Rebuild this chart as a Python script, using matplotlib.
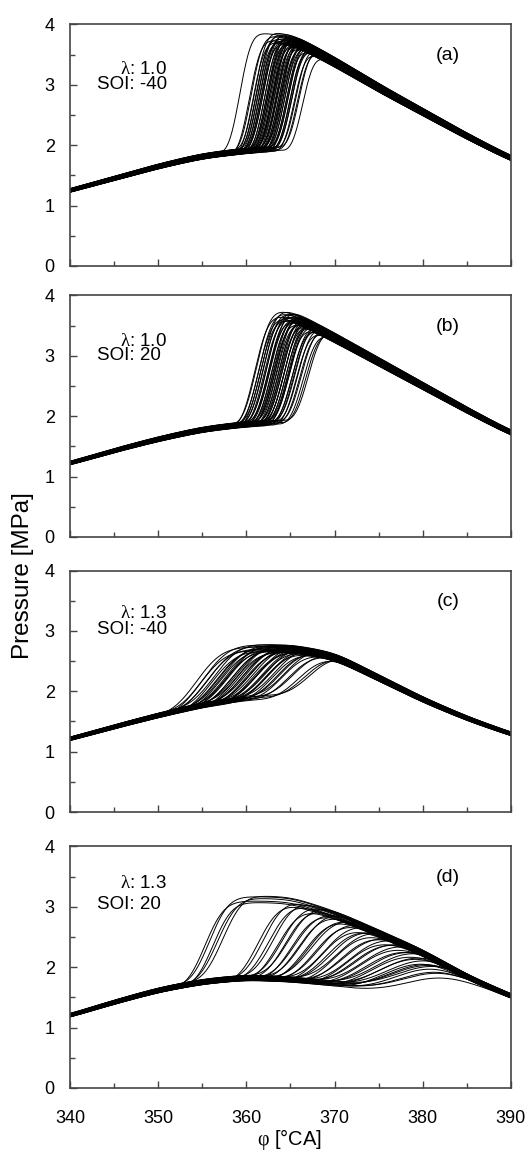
import numpy as np
import matplotlib
matplotlib.use('Agg')
import matplotlib.pyplot as plt
from matplotlib.ticker import MultipleLocator

plt.rcParams['font.family'] = ['Liberation Sans', 'DejaVu Sans']
plt.rcParams['mathtext.fontset'] = 'custom'
plt.rcParams['mathtext.rm'] = 'Liberation Serif'
plt.rcParams['mathtext.default'] = 'rm'

# crank angle knots of the base curves
phi_knots = [335, 340, 345, 350, 355, 360, 365, 370, 375, 380, 385, 390, 395]

# unburned (compression) line and fully burned (expansion) line, MPa
p_mot_a = [1.06, 1.25, 1.45, 1.65, 1.82, 1.91, 1.95, 1.93, 1.85, 1.72, 1.58, 1.42, 1.27]
p_brn_a = [2.90, 3.10, 3.35, 3.55, 3.72, 3.83, 3.77, 3.38, 2.95, 2.55, 2.15, 1.78, 1.50]
p_mot_b = [1.04, 1.22, 1.43, 1.62, 1.78, 1.87, 1.90, 1.88, 1.80, 1.68, 1.53, 1.38, 1.24]
p_brn_b = [2.85, 3.05, 3.25, 3.45, 3.63, 3.74, 3.68, 3.30, 2.90, 2.50, 2.10, 1.72, 1.45]
p_mot_c = [1.03, 1.21, 1.41, 1.60, 1.77, 1.88, 1.93, 1.90, 1.80, 1.65, 1.48, 1.30, 1.14]
p_brn_c = [2.10, 2.25, 2.40, 2.55, 2.66, 2.72, 2.71, 2.58, 2.22, 1.86, 1.55, 1.29, 1.08]
p_mot_d = [1.02, 1.20, 1.42, 1.62, 1.76, 1.83, 1.80, 1.73, 1.64, 1.53, 1.40, 1.26, 1.12]
p_brn_d = [2.50, 2.65, 2.80, 2.92, 3.05, 3.12, 3.10, 2.87, 2.56, 2.24, 1.84, 1.52, 1.25]

# per cycle angle of half pressure rise (deg CA)
mid_a = [359.3, 360.4, 360.6, 360.8, 361.0, 361.1, 361.2, 361.3, 361.4, 361.5,
         361.6, 361.7, 361.8, 361.9, 362.0, 362.1, 362.2, 362.3, 362.4, 362.5,
         362.55, 362.6, 362.7, 362.8, 362.9, 363.0, 363.05, 363.1, 363.2, 363.3,
         363.4, 363.5, 363.55, 363.6, 363.7, 363.8, 363.9, 364.0, 364.05, 364.1,
         364.2, 364.3, 364.4, 364.5, 364.6, 364.7, 364.8, 364.9, 365.0, 365.1,
         365.2, 365.3, 365.5, 365.7, 365.9, 366.1, 366.5]
mid_b = [361.0, 361.2, 361.4, 361.5, 361.6, 361.8, 361.9, 362.0, 362.1, 362.3,
         362.4, 362.5, 362.6, 362.7, 362.8, 362.9, 363.0, 363.1, 363.2, 363.3,
         363.4, 363.5, 363.6, 363.7, 363.8, 363.9, 364.0, 364.1, 364.2, 364.3,
         364.4, 364.5, 364.6, 364.7, 364.8, 364.9, 365.0, 365.1, 365.3, 365.4,
         365.5, 365.7, 365.8, 366.0, 366.2, 366.4, 366.6, 366.9, 367.2]
mid_c = [354.6, 355.0, 355.4, 355.7, 356.0, 356.3, 356.6, 356.9, 357.1, 357.3,
         357.5, 357.7, 357.9, 358.1, 358.3, 358.5, 358.7, 358.9, 359.1, 359.3,
         359.5, 359.7, 359.9, 360.1, 360.3, 360.5, 360.7, 360.9, 361.1, 361.3,
         361.5, 361.7, 361.9, 362.1, 362.3, 362.5, 362.7, 362.9, 363.2, 363.5,
         363.8, 364.1, 364.4, 364.8, 365.2, 365.7, 366.3, 367.0, 367.6]
mid_d = [355.4, 355.9, 356.3, 356.8, 357.4,
         361.4, 362.0, 362.6, 363.2, 363.7, 364.2, 364.6,
         365.0, 365.4, 365.8, 366.2, 366.6, 367.0, 367.4, 367.8, 368.2, 368.6,
         369.0, 369.4, 369.8, 370.2, 370.6, 371.0, 371.4, 371.8, 372.2, 372.6,
         373.0, 373.4, 373.8, 374.2, 374.6, 375.0, 375.4, 375.8, 376.2, 376.6,
         377.0, 377.4, 377.8, 378.2, 378.6, 379.0, 379.5, 380.0, 380.6]
# burn duration per cycle (deg CA) for the lean, late-injection case
dur_d = [8, 8, 8, 8.5, 8.5,
         9, 9, 9.5, 9.5, 10, 10, 10,
         10.5, 10.5, 11, 11, 11, 11.5, 11.5, 12, 12, 12,
         12.5, 12.5, 13, 13, 13, 13.5, 13.5, 14, 14, 14,
         14.5, 14.5, 15, 15, 15.5, 15.5, 16, 16, 16.5, 16.5,
         17, 17, 17.5, 18, 18, 18.5, 19, 19.5, 20]
dur_a, dur_b, dur_c = 5.0, 6.0, 10.5

# cycle to cycle level scatter of each trace (relative)
gain_a = [1.012, 0.985, 1.004, 0.978, 1.021, 0.995, 1.008, 0.982, 1.017, 0.99,
          1.001, 0.976, 1.014, 0.997, 1.023, 0.987, 1.006, 0.98, 1.011, 0.993,
          1.019, 0.984, 1.003, 0.999, 0.977, 1.015, 0.989, 1.009, 0.981, 1.024,
          0.994, 1.002, 0.986, 1.018, 0.979, 1.007, 0.996, 1.013, 0.983, 1.02,
          0.991, 1.005, 0.988, 1.016, 0.978, 1.01, 0.998, 1.022, 0.985, 1.0,
          0.992, 1.014, 0.981, 1.008, 0.995, 1.017, 0.987]
gain_b = [0.991, 1.015, 0.983, 1.007, 0.978, 1.02, 0.996, 1.01, 0.986, 1.003,
          1.018, 0.98, 1.006, 0.993, 1.024, 0.988, 1.0, 0.977, 1.013, 0.997,
          1.009, 0.984, 1.021, 0.99, 1.004, 0.979, 1.016, 0.995, 1.011, 0.982,
          1.002, 1.019, 0.987, 1.008, 0.976, 1.014, 0.998, 1.023, 0.985, 1.005,
          0.992, 1.017, 0.981, 1.01, 0.994, 1.012, 0.989, 1.001, 1.02]
gain_c = [1.006, 0.984, 1.018, 0.993, 1.011, 0.979, 1.022, 0.997, 1.003, 0.987,
          1.015, 0.981, 1.008, 0.995, 1.02, 0.99, 1.001, 0.977, 1.013, 0.986,
          1.024, 0.992, 1.005, 0.983, 1.017, 0.998, 1.009, 0.98, 1.014, 0.989,
          1.002, 1.021, 0.985, 1.007, 0.978, 1.016, 0.994, 1.012, 0.982, 1.019,
          0.996, 1.004, 0.988, 1.023, 0.991, 1.01, 0.984, 1.0, 1.015]
gain_d = [0.994, 1.017, 0.986, 1.008, 1.021, 0.98, 1.003, 0.99, 1.014, 0.978,
          1.011, 0.996, 1.023, 0.984, 1.006, 0.992, 1.019, 0.982, 1.001, 1.013,
          0.988, 1.009, 0.977, 1.016, 0.995, 1.004, 0.983, 1.022, 0.991, 1.007,
          0.979, 1.015, 0.997, 1.012, 0.985, 1.02, 0.993, 1.002, 0.981, 1.018,
          0.989, 1.01, 0.976, 1.014, 0.998, 1.005, 0.987, 1.024, 0.992, 1.0, 0.978]

lambdas = ['1.0', '1.0', '1.3', '1.3']
sois = ['-40', '20', '-40', '20']
letters = ['(a)', '(b)', '(c)', '(d)']


def smooth_curve(phi, knots, vals, sigma=1.4):
    y = np.interp(phi, knots, vals)
    step = phi[1] - phi[0]
    n = int(4 * sigma / step)
    k = np.exp(-0.5 * (np.arange(-n, n + 1) * step / sigma) ** 2)
    k /= k.sum()
    return np.convolve(np.pad(y, n, mode='edge'), k, mode='valid')


def cycles(phi, p_mot, p_brn, mids, durs, gains):
    pm = smooth_curve(phi, phi_knots, p_mot)
    pb = smooth_curve(phi, phi_knots, p_brn)
    out = []
    for m, d, g in zip(mids, durs, gains):
        start = m - d * (np.log(2) / 5.) ** (1. / 3)
        xb = 1 - np.exp(-5 * np.clip((phi - start) / d, 0, None) ** 3)
        out.append(g * (pm + (pb - pm) * xb))
    return out


phi = np.arange(335, 395.001, 0.05)
data = [cycles(phi, p_mot_a, p_brn_a, mid_a, [dur_a] * len(mid_a), gain_a),
        cycles(phi, p_mot_b, p_brn_b, mid_b, [dur_b] * len(mid_b), gain_b),
        cycles(phi, p_mot_c, p_brn_c, mid_c, [dur_c] * len(mid_c), gain_c),
        cycles(phi, p_mot_d, p_brn_d, mid_d, dur_d, gain_d)]

fig = plt.figure(figsize=(5.29, 11.53), dpi=100)
bottoms = [0.7693, 0.5343, 0.2957, 0.0564]
txt_y = [(0.814, 0.752), (0.811, 0.75), (0.82, 0.755), (0.847, 0.76)]
frame = '#444444'

for i in range(4):
    ax = fig.add_axes([0.1323, bottoms[i], 0.8336, 0.2095])
    for p in data[i]:
        ax.plot(phi, p, color='k', lw=0.7)
    ax.set_xlim(340, 390)
    ax.set_ylim(0, 4)
    ax.xaxis.set_major_locator(MultipleLocator(10))
    ax.xaxis.set_minor_locator(MultipleLocator(5))
    ax.yaxis.set_major_locator(MultipleLocator(1))
    ax.yaxis.set_minor_locator(MultipleLocator(0.5))
    ax.tick_params(which='both', direction='in', color=frame, width=1.0,
                   labelsize=13, top=False, right=False)
    ax.tick_params(which='major', length=5)
    ax.tick_params(which='minor', length=3.5)
    ax.tick_params(axis='x', pad=16)
    ax.tick_params(axis='y', pad=11)
    for s in ax.spines.values():
        s.set_color(frame)
        s.set_linewidth(1.2)
    if i < 3:
        ax.set_xticklabels([])
    ax.text(0.113, txt_y[i][0], r'$\lambda$: ' + lambdas[i], transform=ax.transAxes,
            fontsize=13.5, va='center', ha='left')
    ax.text(0.061, txt_y[i][1], 'SOI: ' + sois[i], transform=ax.transAxes,
            fontsize=13.5, va='center', ha='left')
    ax.text(0.857, 0.87, letters[i], transform=ax.transAxes,
            fontsize=14, va='center', ha='center')

fig.text(0.043, 1 - 576 / 1153., 'Pressure [MPa]', rotation=90, fontsize=17.5,
         va='center', ha='center')
fig.text(290 / 529., 1 - 1139 / 1153., r'$\varphi$ [°CA]', fontsize=14.5,
         va='center', ha='center')

fig.savefig('out.png', dpi=100)
